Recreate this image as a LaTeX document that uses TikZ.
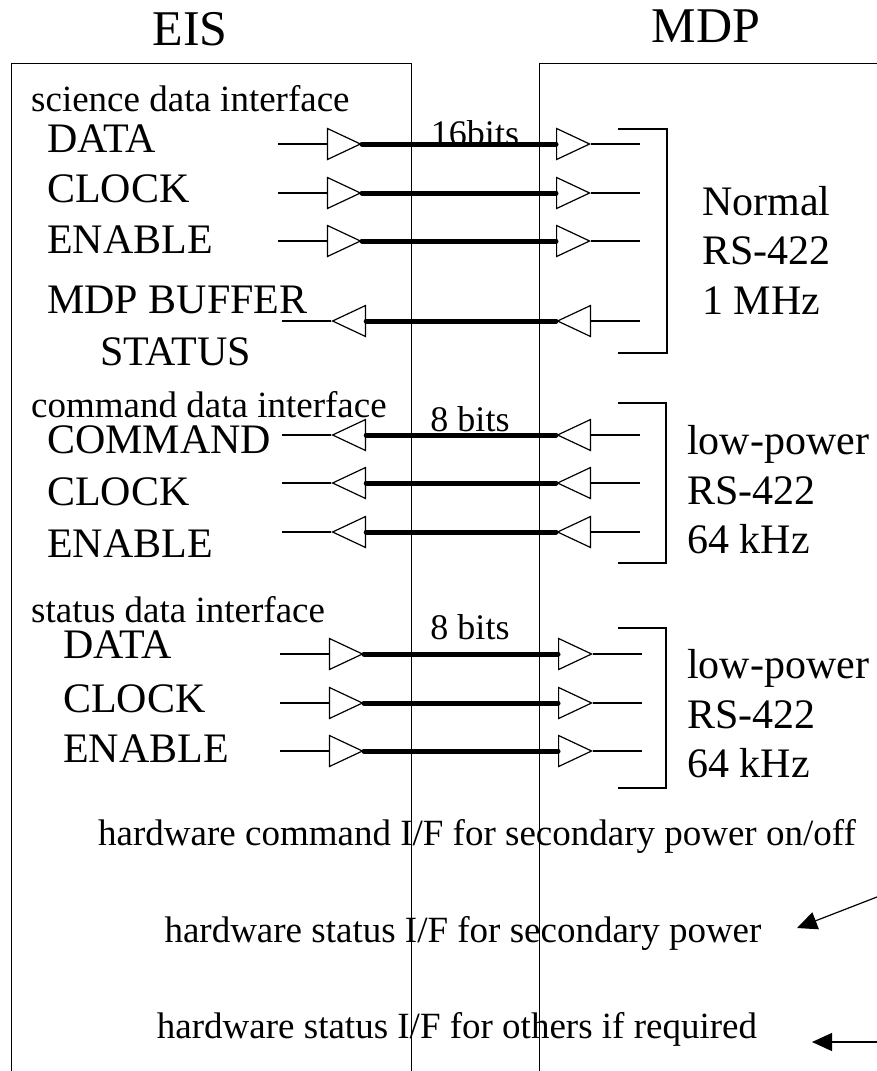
\documentclass[tikz,border=0pt]{standalone}
\usepackage{fontspec}
\setmainfont{Liberation Serif}
\usetikzlibrary{positioning,shapes.geometric,arrows.meta}

\begin{document}
\begin{tikzpicture}[
    x=1pt, y=-1pt,
    frame/.style={draw, line width=1.2pt, minimum width=400pt, minimum height=1040pt,
                  anchor=north west, inner sep=0pt},
    title/.style={font=\fontsize{50}{56}\selectfont},
    sig/.style={anchor=base west, inner sep=0pt, font=\fontsize{42}{48}\selectfont},
    group/.style={anchor=base west, inner sep=0pt, font=\fontsize{37}{42}\selectfont},
    bits/.style={anchor=base, inner sep=0pt, font=\fontsize{36}{40}\selectfont},
    phy/.style={anchor=west, align=left, inner sep=0pt, font=\fontsize{42}{49.5}\selectfont},
    hw/.style={anchor=base, inner sep=0pt, font=\fontsize{37}{42}\selectfont},
    bufr/.style={draw, fill=white, isosceles triangle, isosceles triangle stretches,
                 minimum width=31pt, minimum height=33pt, inner sep=0pt, line width=1.2pt},
    bufl/.style={bufr, rotate=180},
    wire/.style={line width=1.2pt},
    bus/.style={line width=5pt, line cap=round},
    arrow/.style={-{Triangle[length=20pt,width=18pt]}, line width=1.2pt}
]
\useasboundingbox (0,0) rectangle (877,1071);

% Units
\node[frame] (eis) at (11,63) {};
\node[frame] (mdp) at (539,63) {};
\node[title] (eisname) at (190,29) {EIS};
\node[title] (mdpname) at (706,26) {MDP};

% Science data interface
\node[group] (scilbl) at (31,111) {science data interface};
\node[sig] (sdname) at (47,152) {DATA};
\node[sig] (scname) at (47,202) {CLOCK};
\node[sig] (sename) at (47,253) {ENABLE};
\node[sig] (sbname) at (47,313) {MDP BUFFER};
\node[sig] (ssname) at (100,365) {STATUS};

\node[bufr, anchor=apex] (sdL) at (362,144) {};
\node[bufr, anchor=lower side] (sdR) at (556,144) {};
\node[bufr, anchor=apex] (scL) at (362,193) {};
\node[bufr, anchor=lower side] (scR) at (556,193) {};
\node[bufr, anchor=apex] (seL) at (362,241) {};
\node[bufr, anchor=lower side] (seR) at (556,241) {};
\node[bufl, anchor=apex] (sbL) at (331,321) {};
\node[bufl, anchor=apex] (sbR) at (556,321) {};

\draw[bus] (sdL.apex) -- (sdR.lower side);
\draw[bus] (scL.apex) -- (scR.lower side);
\draw[bus] (seL.apex) -- (seR.lower side);
\draw[bus] (sbL.lower side) -- (sbR.apex);
\draw[wire] (sdL.lower side) -- ++(-49,0) (sdR.apex) -- ++(49,0);
\draw[wire] (scL.lower side) -- ++(-49,0) (scR.apex) -- ++(49,0);
\draw[wire] (seL.lower side) -- ++(-49,0) (seR.apex) -- ++(49,0);
\draw[wire] (sbL.apex) -- ++(-49,0) (sbR.lower side) -- ++(49,0);
\node[bits] (sbits) at (475,145) {16bits};

\draw[wire] (618,129) -- (667,129) -- (667,353) -- (618,353);
\node[phy] (sphy) at (702,250) {Normal\\RS-422\\1 MHz};

% Command data interface
\node[group] (cmdlbl) at (31,417) {command data interface};
\node[sig] (ccname) at (47,453) {COMMAND};
\node[sig] (ckname) at (47,505) {CLOCK};
\node[sig] (cename) at (47,557) {ENABLE};

\node[bufl, anchor=apex] (ccL) at (331,435) {};
\node[bufl, anchor=apex] (ccR) at (556,435) {};
\node[bufl, anchor=apex] (ckL) at (331,483) {};
\node[bufl, anchor=apex] (ckR) at (556,483) {};
\node[bufl, anchor=apex] (ceL) at (331,532) {};
\node[bufl, anchor=apex] (ceR) at (556,532) {};

\draw[bus] (ccL.lower side) -- (ccR.apex);
\draw[bus] (ckL.lower side) -- (ckR.apex);
\draw[bus] (ceL.lower side) -- (ceR.apex);
\draw[wire] (ccL.apex) -- ++(-49,0) (ccR.lower side) -- ++(49,0);
\draw[wire] (ckL.apex) -- ++(-49,0) (ckR.lower side) -- ++(49,0);
\draw[wire] (ceL.apex) -- ++(-49,0) (ceR.lower side) -- ++(49,0);
\node[bits] (cbits) at (470,431) {8 bits};

\draw[wire] (618,403) -- (666,403) -- (666,563) -- (618,563);
\node[phy] (cphy) at (687,490) {low-power\\RS-422\\64 kHz};

% Status data interface
\node[group] (stlbl) at (31,622) {status data interface};
\node[sig] (tdname) at (63,658) {DATA};
\node[sig] (tcname) at (63,712) {CLOCK};
\node[sig] (tename) at (63,762) {ENABLE};

\node[bufr, anchor=apex] (tdL) at (364,654) {};
\node[bufr, anchor=lower side] (tdR) at (558,654) {};
\node[bufr, anchor=apex] (tcL) at (364,703) {};
\node[bufr, anchor=lower side] (tcR) at (558,703) {};
\node[bufr, anchor=apex] (teL) at (364,751) {};
\node[bufr, anchor=lower side] (teR) at (558,751) {};

\draw[bus] (tdL.apex) -- (tdR.lower side);
\draw[bus] (tcL.apex) -- (tcR.lower side);
\draw[bus] (teL.apex) -- (teR.lower side);
\draw[wire] (tdL.lower side) -- ++(-49,0) (tdR.apex) -- ++(49,0);
\draw[wire] (tcL.lower side) -- ++(-49,0) (tcR.apex) -- ++(49,0);
\draw[wire] (teL.lower side) -- ++(-49,0) (teR.apex) -- ++(49,0);
\node[bits] (tbits) at (470,639) {8 bits};

\draw[wire] (618,628) -- (666,628) -- (666,788) -- (618,788);
\node[phy] (tphy) at (687,714) {low-power\\RS-422\\64 kHz};

% Hardware lines
\node[hw] (hwcmd) at (477,845) {hardware command I/F for secondary power on/off};
\node[hw] (hwpower) at (463,942) {hardware status I/F for secondary power};
\node[hw] (hwother) at (457,1038) {hardware status I/F for others if required};

\coordinate (pwrsrc) at (895,890);
\coordinate (pwrtip) at (797,928);
\coordinate (othsrc) at (895,1042);
\coordinate (othtip) at (812,1042);
\draw[arrow] (pwrsrc) -- (pwrtip);
\draw[arrow] (othsrc) -- (othtip);

\end{tikzpicture}
\end{document}
